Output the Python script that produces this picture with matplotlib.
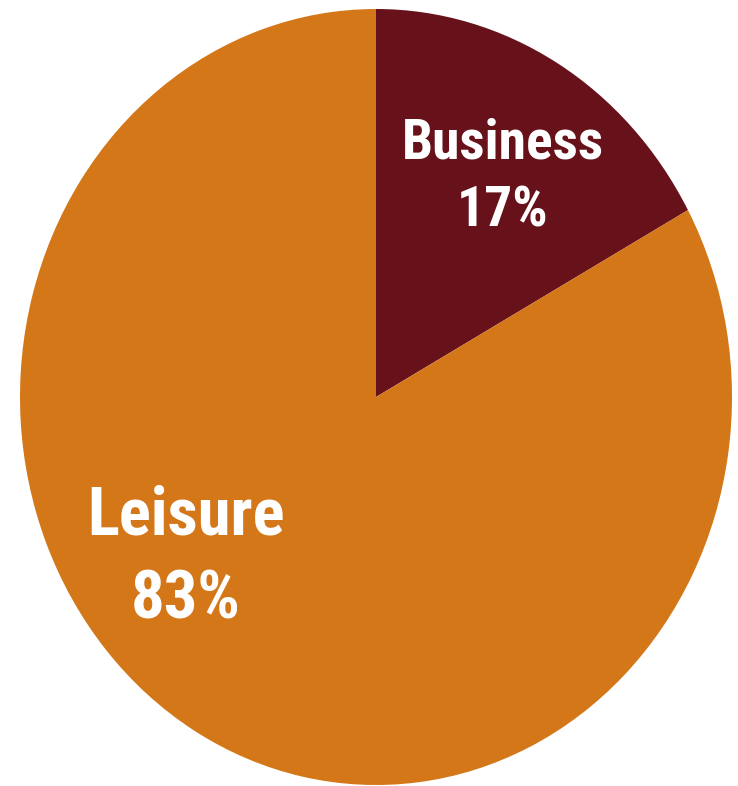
import matplotlib
matplotlib.use("Agg")
import matplotlib.pyplot as plt

categories = ["Business", "Leisure"]
values = [17, 83]
colors = ["#67121a", "#d37719"]
label_texts = ["Business\n17%", "Leisure\n83%"]
label_pos = [(0.357, 0.565), (-0.534, -0.416)]
label_sizes = [40, 48]

W, H = 738, 786
fig = plt.figure(figsize=(W / 100, H / 100), dpi=100)
fig.patch.set_facecolor("white")
left, right, top, bottom = 20, 732, 9, 785
ax = fig.add_axes([left / W, 1 - bottom / H, (right - left) / W, (bottom - top) / H])
ax.pie(values, colors=colors, startangle=90, counterclock=False,
       radius=1, wedgeprops=dict(linewidth=0))
ax.set_aspect("auto")
ax.set_xlim(-1, 1)
ax.set_ylim(-1, 1)
ax.axis("off")

for txt, (x, y), fs in zip(label_texts, label_pos, label_sizes):
    ax.text(x, y, txt, ha="center", va="center", color="white",
            fontsize=fs, fontweight="bold",
            family=["Roboto Condensed", "DejaVu Sans"], linespacing=1.39)

fig.savefig("out.png", dpi=100, facecolor="white")
